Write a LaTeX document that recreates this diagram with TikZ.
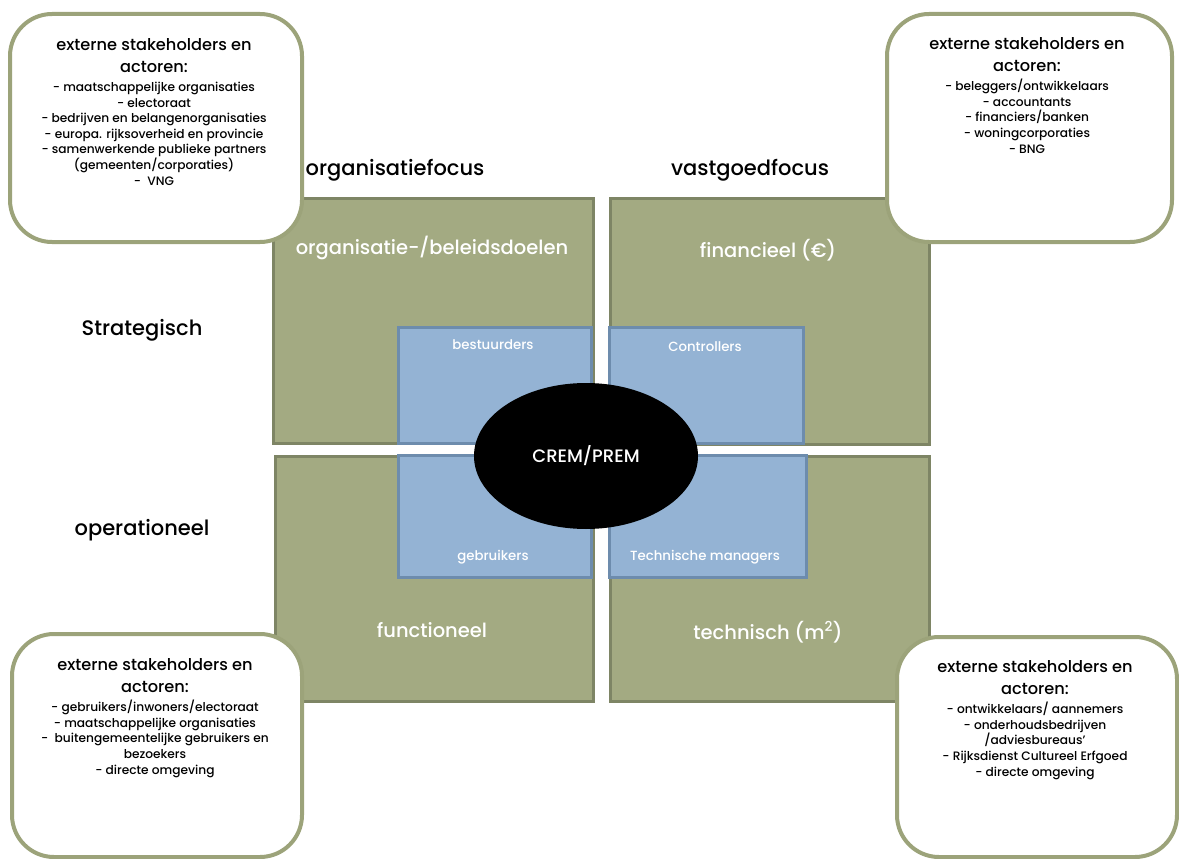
\documentclass[tikz,border=0pt]{standalone}
\usepackage{fontspec}
\setmainfont{Poppins}[UprightFont=* Medium]
\usetikzlibrary{shapes.geometric}
\definecolor{quadfill}{HTML}{A3AA82}
\definecolor{quadline}{HTML}{7E8565}
\definecolor{rolefill}{HTML}{94B3D4}
\definecolor{roleline}{HTML}{6D8CAD}
\definecolor{cardline}{HTML}{9CA37A}
\tikzset{
  quad/.style={draw=quadline, line width=3pt, fill=quadfill, anchor=north west, inner sep=0pt},
  role/.style={draw=roleline, line width=3pt, fill=rolefill, anchor=north west, inner sep=0pt},
  card/.style={draw=cardline, line width=4pt, fill=white, rounded corners=42pt, anchor=north west, inner sep=0pt},
  quadtext/.style={text=white, font=\fontsize{19.5}{23}\selectfont},
  roletext/.style={text=white, font=\fontsize{13.3}{16}\selectfont},
  axis/.style={text=black, font=\fontsize{21}{25}\selectfont},
  cardtitle/.style={align=center, anchor=north, inner sep=0pt, font=\fontsize{16.2}{22.5}\selectfont},
  cardlist/.style={align=center, anchor=north, inner sep=0pt, font=\fontsize{12.2}{15.6}\selectfont},
}
\begin{document}
\begin{tikzpicture}[x=1pt, y=-1pt]
\useasboundingbox (0,0) rectangle (1179,859);

% four quadrants
\node[quad, minimum width=320, minimum height=245] (qtl) at (272,197) {};
\node[quad, minimum width=319, minimum height=246] (qtr) at (609,197) {};
\node[quad, minimum width=318, minimum height=245] (qbl) at (274,455) {};
\node[quad, minimum width=319, minimum height=245] (qbr) at (609,455) {};

\node[quadtext] (ltl) at (432,248) {organisatie-/beleidsdoelen};
\node[quadtext] (ltr) at (768,250) {financieel (€)};
\node[quadtext] (lbl) at (432,630) {functioneel};
\node[quadtext] (lbr) at (768,632) {technisch (m\textsuperscript{2})};

% stakeholder roles
\node[role, minimum width=193, minimum height=116] (rtl) at (397,326) {};
\node[role, minimum width=194, minimum height=116] (rtr) at (608,326) {};
\node[role, minimum width=193, minimum height=122] (rbl) at (397,454) {};
\node[role, minimum width=197, minimum height=122] (rbr) at (608,454) {};

\node[roletext] (ttl) at (493,345) {bestuurders};
\node[roletext] (ttr) at (705,347) {Controllers};
\node[roletext] (tbl) at (493,557) {gebruikers};
\node[roletext] (tbr) at (705,557) {Technische managers};

% core
\node[ellipse, fill=black, minimum width=224, minimum height=146, inner sep=0pt,
      text=white, font=\fontsize{18}{21}\selectfont] (core) at (586,456) {CREM/PREM};

% axis labels
\node[axis] (afo) at (395,170) {organisatiefocus};
\node[axis] (afv) at (750,170) {vastgoedfocus};
\node[axis] (ast) at (142,330) {Strategisch};
\node[axis] (aop) at (142,530) {operationeel};

% external stakeholder cards
\node[card, minimum width=292, minimum height=228] (ctl) at (8,12) {};
\node[card, minimum width=285, minimum height=228] (ctr) at (885,12) {};
\node[card, minimum width=290, minimum height=223] (cbl) at (10,632) {};
\node[card, minimum width=280, minimum height=220] (cbr) at (895,635) {};

\node[cardtitle] (ctlh) at (154,38) {externe stakeholders en\\actoren:};
\node[cardlist] (ctll) at (154,82) {- maatschappelijke organisaties\\- electoraat\\- bedrijven en belangenorganisaties\\- europa. rijksoverheid en provincie\\- samenwerkende publieke partners\\(gemeenten/corporaties)\\-~~VNG};

\node[cardtitle] (ctrh) at (1027,37) {externe stakeholders en\\actoren:};
\node[cardlist] (ctrl) at (1027,79) {- beleggers/ontwikkelaars\\- accountants\\- financiers/banken\\- woningcorporaties\\- BNG};

\node[cardtitle] (cblh) at (155,658) {externe stakeholders en\\actoren:};
\node[cardlist] (cbll) at (155,700) {- gebruikers/inwoners/electoraat\\- maatschappelijke organisaties\\-~~buitengemeentelijke gebruikers en\\bezoekers\\- directe omgeving};

\node[cardtitle] (cbrh) at (1035,660) {externe stakeholders en\\actoren:};
\node[cardlist] (cbrl) at (1035,702) {- ontwikkelaars/ aannemers\\- onderhoudsbedrijven\\/adviesbureaus'\\- Rijksdienst Cultureel Erfgoed\\- directe omgeving};
\end{tikzpicture}
\end{document}
